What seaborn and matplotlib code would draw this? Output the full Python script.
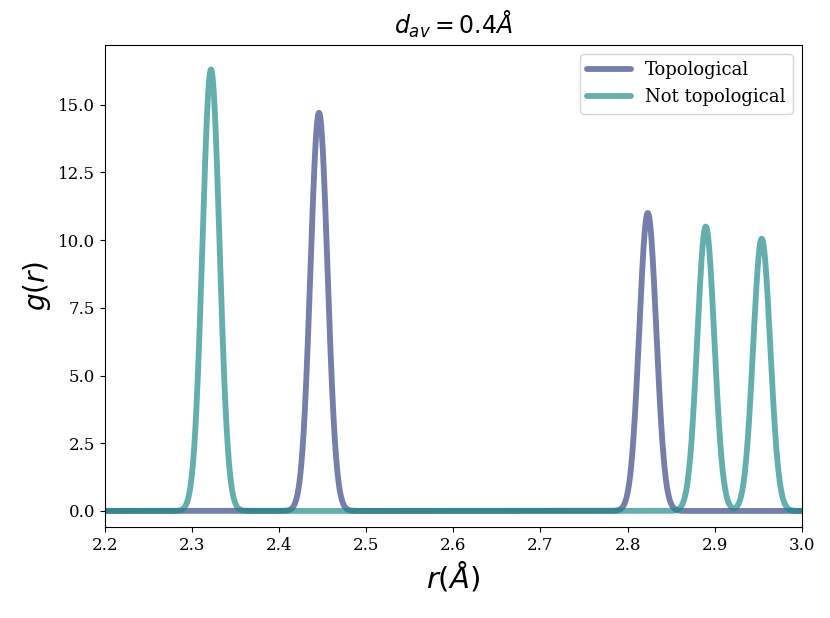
import numpy as np
import pandas as pd
import matplotlib
matplotlib.use("Agg")
import matplotlib.pyplot as plt
import seaborn as sns

# -------------------------------------------------
# Peak data (centre in A, height of g(r))
# -------------------------------------------------

topo_centres = [2.4457, 2.8232]
topo_heights = [14.7, 11.0]

nontopo_centres = [2.3217, 2.8898, 2.9540]
nontopo_heights = [16.3, 10.5, 10.05]

# gaussian smearing width used for the rdf
sigma = 0.0098

labels = ["Topological", "Not topological"]
colors = ["#364282", "#1b8988"]


# -------------------------------------------------
# Build g(r) on a grid
# -------------------------------------------------

r = np.linspace(2.2, 3.0, 3000)


def smear(centres, heights):
    g = np.zeros_like(r)
    for c, h in zip(centres, heights):
        g += h * np.exp(-0.5 * ((r - c) / sigma) ** 2)
    return g


df = pd.concat([
    pd.DataFrame({"r": r, "g": smear(topo_centres, topo_heights), "kind": labels[0]}),
    pd.DataFrame({"r": r, "g": smear(nontopo_centres, nontopo_heights), "kind": labels[1]}),
])


# -------------------------------------------------
# Plot
# -------------------------------------------------

sns.set_style("ticks", {
    "axes.edgecolor": "black",
    "text.color": "black",
    "axes.labelcolor": "black",
    "xtick.color": "black",
    "ytick.color": "black",
})
plt.rcParams["font.family"] = ["DejaVu Serif"]
plt.rcParams["mathtext.fontset"] = "dejavusans"

fig = plt.figure(figsize=(8.3, 6.18), dpi=100)
ax = fig.add_axes([0.1265, 0.147, 0.8395, 0.78])

sns.lineplot(
    data=df, x="r", y="g", hue="kind",
    palette=dict(zip(labels, colors)),
    linewidth=4.2, alpha=0.68, ax=ax, sort=False,
)

ax.set_xlim(2.2, 3.0)
ax.set_ylim(-0.6, 17.2)
ax.set_xticks(np.arange(2.2, 3.01, 0.1))
ax.set_yticks(np.arange(0, 15.1, 2.5))
ax.tick_params(labelsize=12)

ax.set_xlabel(r"$r(\AA)$", fontsize=21)
ax.set_ylabel(r"$g(r)$", fontsize=20)
ax.set_title(r"$d_{av} = 0.4\AA$", fontsize=17, pad=8)

leg = ax.legend(loc="upper right", fontsize=13, title=None, handlelength=2.4)
for line in leg.get_lines():
    line.set_linewidth(4.2)

fig.savefig("out.png", dpi=100)
plt.close(fig)
